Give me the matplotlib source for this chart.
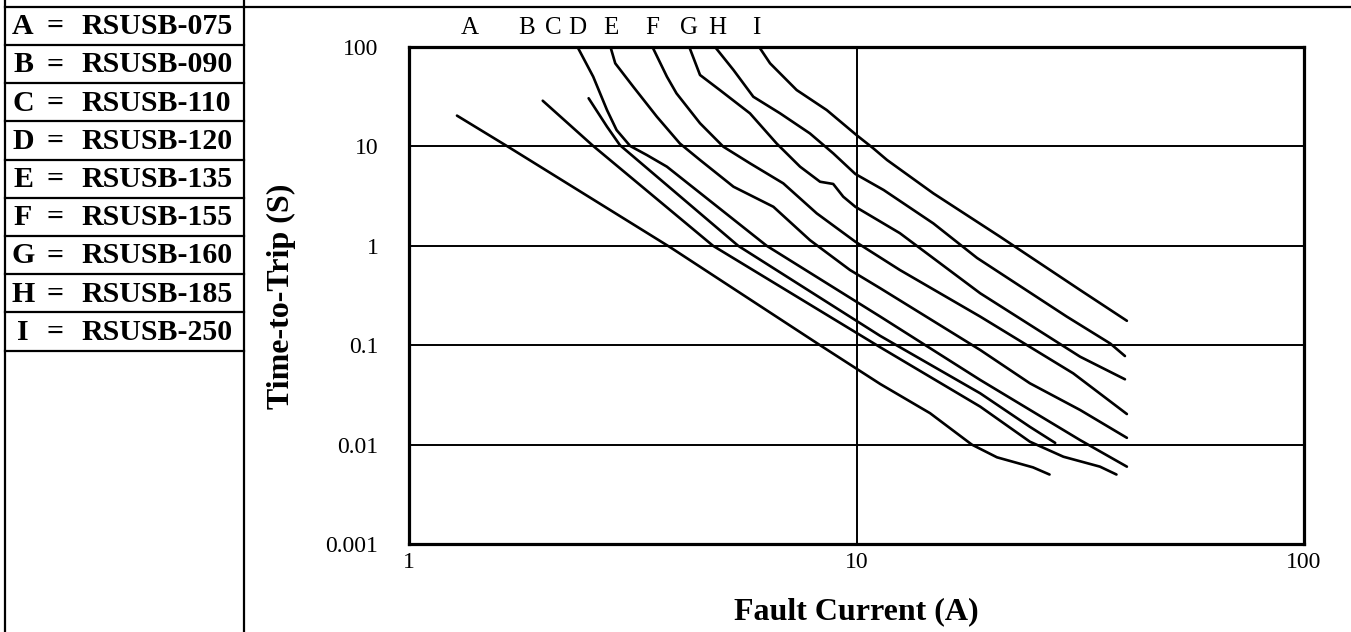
import matplotlib
matplotlib.use("Agg")
import matplotlib.pyplot as plt
from matplotlib.lines import Line2D

# ---------------- data ----------------
letters = ['A', 'B', 'C', 'D', 'E', 'F', 'G', 'H', 'I']
parts = ['RSUSB-075', 'RSUSB-090', 'RSUSB-110', 'RSUSB-120', 'RSUSB-135',
         'RSUSB-155', 'RSUSB-160', 'RSUSB-185', 'RSUSB-250']

A_x = [1.28, 1.66, 3.83, 8.29, 11.3, 14.6, 18.1, 20.6, 24.8, 27.0]
A_y = [20.4, 10.0, 0.97, 0.10, 0.0407, 0.0207, 0.0100, 0.00745, 0.0059, 0.0050]

B_x = [1.99, 2.58, 4.78, 11.3, 18.9, 24.4, 29.0, 35.0, 38.1]
B_y = [28.8, 10.1, 1.0, 0.0953, 0.0241, 0.0107, 0.00755, 0.0060, 0.0050]

C_x = [2.52, 2.77, 2.96, 5.44, 11.3, 18.9, 24.4, 27.8]
C_y = [30.5, 15.8, 10.3, 1.0, 0.124, 0.0328, 0.0151, 0.0104]

D_x = [2.38, 2.58, 2.77, 2.91, 3.12, 3.40, 3.77, 6.30, 11.3, 18.9, 31.6, 40.2]
D_y = [100, 50.3, 23.2, 14.6, 10.1, 8.19, 6.25, 1.0, 0.194, 0.0447, 0.0111, 0.0060]

E_x = [2.82, 2.89, 3.17, 3.58, 4.03, 4.47, 5.31, 6.52, 7.87, 9.67, 11.3, 18.9, 24.4, 31.6, 40.2]
E_y = [100, 68.5, 39.9, 19.9, 10.7, 7.30, 3.93, 2.47, 1.14, 0.571, 0.374, 0.0895, 0.0414, 0.0223, 0.0117]

F_x = [3.50, 3.77, 3.96, 4.47, 5.04, 5.78, 6.86, 8.15, 9.94, 12.5, 18.9, 30.5, 40.2]
F_y = [100, 50.3, 34.2, 17.1, 9.93, 6.76, 4.25, 2.12, 1.10, 0.571, 0.194, 0.0521, 0.0203]

G_x = [4.23, 4.47, 4.95, 5.78, 6.63, 7.48, 8.29, 8.87, 9.34, 9.94, 12.5, 18.9, 31.6, 39.8]
G_y = [100, 52.3, 36.9, 21.5, 10.7, 6.25, 4.41, 4.19, 3.12, 2.47, 1.34, 0.333, 0.0766, 0.0454]

H_x = [4.83, 5.31, 5.88, 6.75, 7.87, 8.87, 9.94, 11.5, 14.85, 18.6, 29.5, 36.9, 39.8]
H_y = [100, 58.7, 31.6, 21.5, 13.5, 8.52, 5.28, 3.64, 1.68, 0.754, 0.194, 0.104, 0.0778]

I_x = [6.06, 6.41, 7.35, 8.58, 10.0, 10.9, 11.7, 14.85, 20.9, 31.6, 40.2]
I_y = [100, 68.5, 36.9, 23.2, 13.0, 9.57, 7.30, 3.37, 1.24, 0.359, 0.176]

curve_x = [A_x, B_x, C_x, D_x, E_x, F_x, G_x, H_x, I_x]
curve_y = [A_y, B_y, C_y, D_y, E_y, F_y, G_y, H_y, I_y]

# letter positions along the top edge (fault current)
label_x = [1.369, 1.835, 2.098, 2.374, 2.828, 3.49, 4.224, 4.878, 5.963]

x_ticks = [1, 10, 100]
x_ticklabels = ['1', '10', '100']
y_ticks = [0.001, 0.01, 0.1, 1, 10, 100]
y_ticklabels = ['0.001', '0.01', '0.1', '1', '10', '100']
x_grid = [10]

# ---------------- figure ----------------
W, H = 1351, 632
plt.rcParams['font.family'] = ['Liberation Serif', 'DejaVu Serif']
fig = plt.figure(figsize=(W / 100, H / 100), dpi=100)
fig.patch.set_facecolor('white')


def fx(px):
    return px / W


def fy(py):
    return 1 - py / H


ax_l, ax_r, ax_t, ax_b = 409, 1304, 47, 544
ax = fig.add_axes([fx(ax_l), fy(ax_b), (ax_r - ax_l) / W, (ax_b - ax_t) / H])
ax.set_xscale('log')
ax.set_yscale('log')
ax.set_xlim(1, 100)
ax.set_ylim(0.001, 100)

for yv in y_ticks:
    ax.axhline(yv, color='black', lw=1.4, zorder=1)
for xv in x_grid:
    ax.axvline(xv, color='black', lw=1.4, zorder=1)

for xs, ys in zip(curve_x, curve_y):
    ax.plot(xs, ys, color='black', lw=1.9, solid_capstyle='round',
            solid_joinstyle='round', zorder=3)

ax.set_xticks(x_ticks)
ax.set_xticklabels(x_ticklabels)
ax.set_yticks(y_ticks)
ax.set_yticklabels(y_ticklabels)
ax.minorticks_off()
ax.tick_params(axis='both', length=0, labelsize=17)
ax.tick_params(axis='y', pad=22)
ax.tick_params(axis='x', pad=6)
for s in ax.spines.values():
    s.set_linewidth(2.3)
    s.set_color('black')
    s.set_zorder(4)

for lx, lt in zip(label_x, letters):
    ax.text(lx, 1.038, lt, transform=ax.get_xaxis_transform(),
            ha='center', va='center', fontsize=18)

fig.text(fx(281), fy(296), 'Time-to-Trip (S)', rotation=90, ha='center',
         va='center', fontsize=23, fontweight='bold')
fig.text(fx(856), fy(612), 'Fault Current (A)', ha='center', va='center',
         fontsize=23, fontweight='bold')

# ---------------- table on the left ----------------
tbl_l, tbl_r, tbl_t, row_h = 5.5, 243.5, 6.7, 38.2
lw_t = 1.6
fig.add_artist(Line2D([fx(tbl_l)] * 2, [fy(0), fy(H)], color='black', lw=lw_t,
                      transform=fig.transFigure))
fig.add_artist(Line2D([fx(tbl_r)] * 2, [fy(0), fy(H)], color='black', lw=lw_t,
                      transform=fig.transFigure))
fig.add_artist(Line2D([fx(tbl_r), fx(W)], [fy(tbl_t)] * 2, color='black', lw=lw_t,
                      transform=fig.transFigure))
for k in range(len(letters) + 1):
    yy = tbl_t + k * row_h
    fig.add_artist(Line2D([fx(tbl_l), fx(tbl_r)], [fy(yy)] * 2, color='black',
                          lw=lw_t, transform=fig.transFigure))
for k, (lt, pn) in enumerate(zip(letters, parts)):
    yc = tbl_t + (k + 0.5) * row_h + 1
    fig.text(fx(23), fy(yc), lt, ha='center', va='center', fontsize=21.5,
             fontweight='bold')
    fig.text(fx(46.7), fy(yc), '=', ha='left', va='center', fontsize=21.5,
             fontweight='bold')
    fig.text(fx(81.7), fy(yc), pn, ha='left', va='center', fontsize=21.5,
             fontweight='bold')

fig.savefig('out.png', dpi=100, facecolor='white')
